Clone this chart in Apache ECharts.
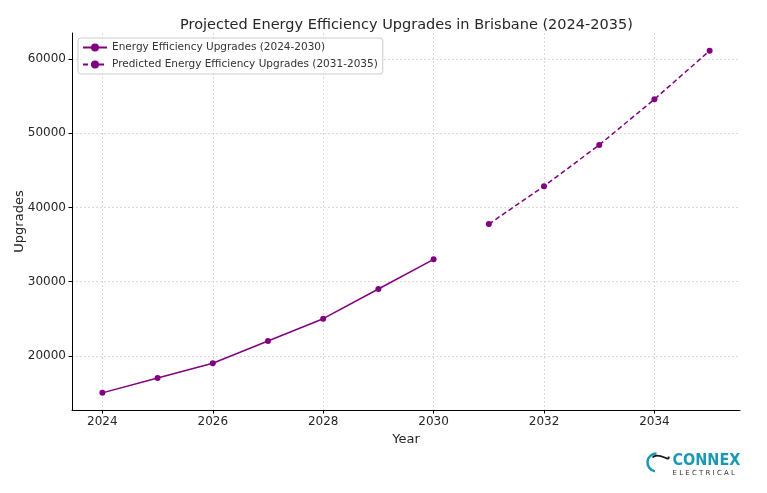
<!DOCTYPE html>
<html>
<head>
<meta charset="utf-8">
<script src="https://cdn.jsdelivr.net/npm/echarts@6/dist/echarts.min.js"></script>
<style>
html,body{margin:0;padding:0;background:#fff;}
#chart{width:767px;height:493px;}
</style>
</head>
<body>
<div id="chart"></div>
<script>
const actualYears = [2024, 2025, 2026, 2027, 2028, 2029, 2030];
const actualValues = [15000, 17000, 19000, 22000, 25000, 29000, 33000];
const predictedYears = [2031, 2032, 2033, 2034, 2035];
const predictedValues = [37750, 42860, 48420, 54580, 61120];
const xTicks = [2024, 2026, 2028, 2030, 2032, 2034];
const yTicks = [20000, 30000, 40000, 50000, 60000];

const FONT = 'DejaVu Sans';
const PURPLE = '#800080';
const chart = echarts.init(document.getElementById('chart'), null, {renderer: 'canvas'});

const gridLine = {show: true, lineStyle: {color: '#d0d0d0', type: [2, 2], width: 0.8}};

chart.setOption({
  animation: false,
  backgroundColor: '#ffffff',
  title: {
    text: 'Projected Energy Efficiency Upgrades in Brisbane (2024-2035)',
    left: 175, top: 13,
    textStyle: {fontFamily: FONT, fontSize: 14.5, fontWeight: 'normal', color: '#262626'}
  },
  grid: {left: 72, right: 27, top: 33, bottom: 83, containLabel: false},
  legend: {
    orient: 'vertical',
    left: 78, top: 38,
    padding: [4, 5, 4, 4],
    itemGap: 6,
    itemWidth: 24, itemHeight: 10,
    backgroundColor: 'rgba(255,255,255,0.8)',
    borderColor: '#cccccc', borderWidth: 1, borderRadius: 3,
    textStyle: {fontFamily: FONT, fontSize: 10.5, color: '#333333'},
    data: ['Energy Efficiency Upgrades (2024-2030)', 'Predicted Energy Efficiency Upgrades (2031-2035)']
  },
  xAxis: {
    type: 'value', min: 2023.45, max: 2035.55,
    name: 'Year', nameLocation: 'middle', nameGap: 19,
    nameTextStyle: {fontFamily: FONT, fontSize: 13, color: '#262626'},
    axisLine: {show: true, lineStyle: {color: '#000', width: 1}},
    axisTick: {show: true, customValues: xTicks, length: 3.5, lineStyle: {color: '#000'}},
    axisLabel: {customValues: xTicks, fontFamily: FONT, fontSize: 12, color: '#262626', margin: 6,
      formatter: v => String(v)},
    splitLine: gridLine
  },
  yAxis: {
    type: 'value', min: 12690, max: 63510,
    name: 'Upgrades', nameLocation: 'middle', nameGap: 46, nameRotate: 90,
    nameMoveOverlap: false,
    nameTextStyle: {fontFamily: FONT, fontSize: 13, color: '#262626'},
    axisLine: {show: true, lineStyle: {color: '#000', width: 1}},
    axisTick: {show: true, customValues: yTicks, length: 3.5, lineStyle: {color: '#000'}},
    axisLabel: {customValues: yTicks, fontFamily: FONT, fontSize: 12, color: '#262626', margin: 6,
      formatter: v => String(v)},
    splitLine: gridLine
  },
  series: [
    {
      name: 'Energy Efficiency Upgrades (2024-2030)',
      type: 'line',
      data: actualYears.map((y, i) => [y, actualValues[i]]),
      symbol: 'circle', symbolSize: 6,
      itemStyle: {color: PURPLE},
      lineStyle: {color: PURPLE, width: 1.5}
    },
    {
      name: 'Predicted Energy Efficiency Upgrades (2031-2035)',
      type: 'line',
      data: predictedYears.map((y, i) => [y, predictedValues[i]]),
      symbol: 'circle', symbolSize: 6,
      itemStyle: {color: PURPLE},
      lineStyle: {color: PURPLE, width: 1.5, type: [5, 3]}
    }
  ],
  graphic: [
    {
      type: 'group', left: 645, top: 451,
      children: [
        {type: 'arc', shape: {cx: 10, cy: 11, r: 9, startAngle: Math.PI * 0.55, endAngle: Math.PI * 1.5, clockwise: true},
          style: {stroke: '#1b98b3', lineWidth: 2.5, fill: null}},
        {type: 'bezierCurve', shape: {x1: 6, y1: 6, cpx1: 12, cpy1: -1, x2: 22, y2: 5, cpx2: 24, cpy2: 12},
          style: {stroke: '#1a1a1a', lineWidth: 1.8, fill: null}},
        {type: 'text', x: 26, y: 1,
          style: {text: 'CONNEX', font: 'bold 16px "Liberation Sans Narrow", "DejaVu Sans Condensed", sans-serif', fill: '#1b98b3'}},
        {type: 'text', x: 26, y: 18,
          style: {text: 'E L E C T R I C A L', font: '7px "DejaVu Sans", sans-serif', fill: '#333333'}}
      ]
    }
  ]
});
</script>
</body>
</html>
